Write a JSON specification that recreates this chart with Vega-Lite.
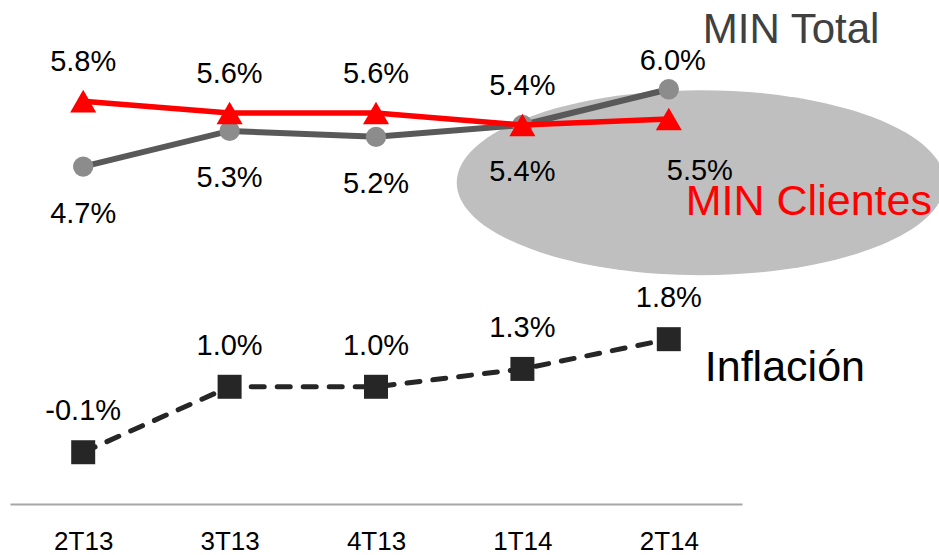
{
  "$schema": "https://vega.github.io/schema/vega-lite/v6.json",
  "autosize": {"type": "none"},
  "padding": {"left": 10, "top": 0, "right": 197, "bottom": 51},
  "width": 732,
  "height": 504,
  "background": "white",
  "config": {"view": {"stroke": null}, "font": "Liberation Sans"},
  "data": {
    "values": [
      {"q": "2T13", "series": "MIN Total", "value": 4.7},
      {"q": "3T13", "series": "MIN Total", "value": 5.3},
      {"q": "4T13", "series": "MIN Total", "value": 5.2},
      {"q": "1T14", "series": "MIN Total", "value": 5.4},
      {"q": "2T14", "series": "MIN Total", "value": 6.0},
      {"q": "2T13", "series": "MIN Clientes", "value": 5.8},
      {"q": "3T13", "series": "MIN Clientes", "value": 5.6},
      {"q": "4T13", "series": "MIN Clientes", "value": 5.6},
      {"q": "1T14", "series": "MIN Clientes", "value": 5.4},
      {"q": "2T14", "series": "MIN Clientes", "value": 5.5},
      {"q": "2T13", "series": "Inflación", "value": -0.1},
      {"q": "3T13", "series": "Inflación", "value": 1.0},
      {"q": "4T13", "series": "Inflación", "value": 1.0},
      {"q": "1T14", "series": "Inflación", "value": 1.3},
      {"q": "2T14", "series": "Inflación", "value": 1.8}
    ]
  },
  "transform": [
    {"calculate": "(datum.value < 0 ? '-' : '') + format(abs(datum.value), '.1f') + '%'", "as": "label"}
  ],
  "encoding": {
    "x": {
      "field": "q", "type": "ordinal",
      "scale": {"type": "point", "padding": 0.5, "domain": ["2T13", "3T13", "4T13", "1T14", "2T14"]},
      "axis": {
        "title": null, "ticks": false, "tickSize": 0, "grid": false,
        "domainColor": "#a6a6a6", "domainWidth": 2,
        "labelFont": "Liberation Sans",
        "labelFontSize": 26, "labelColor": "#000000", "labelPadding": 24, "labelAngle": 0
      }
    },
    "y": {
      "field": "value", "type": "quantitative",
      "scale": {"domain": [-0.97, 7.5], "nice": false, "zero": false},
      "axis": null
    }
  },
  "layer": [
    {
      "transform": [{"filter": "datum.series === 'MIN Clientes' && datum.q === '2T14'"}],
      "mark": {
        "type": "point", "filled": true, "color": "#bfbfbf", "opacity": 1, "size": 238144,
        "shape": "M 1.131 0.261 C 1.131 0.470 0.683 0.640 0.131 0.640 C -0.421 0.640 -0.869 0.470 -0.869 0.261 C -0.869 0.052 -0.421 -0.118 0.131 -0.118 C 0.683 -0.118 1.131 0.052 1.131 0.261 Z"
      }
    },
    {
      "transform": [{"filter": "datum.series === 'MIN Total'"}],
      "mark": {"type": "line", "color": "#595959", "strokeWidth": 6}
    },
    {
      "transform": [{"filter": "datum.series === 'MIN Total'"}],
      "mark": {"type": "point", "shape": "circle", "filled": true, "color": "#8c8c8c", "opacity": 1, "size": 415}
    },
    {
      "transform": [{"filter": "datum.series === 'MIN Clientes'"}],
      "mark": {"type": "line", "color": "#ff0000", "strokeWidth": 5.5}
    },
    {
      "transform": [{"filter": "datum.series === 'MIN Clientes'"}],
      "mark": {"type": "point", "shape": "triangle-up", "filled": true, "color": "#ff0000", "opacity": 1, "size": 680}
    },
    {
      "transform": [{"filter": "datum.series === 'Inflación'"}],
      "mark": {"type": "line", "color": "#262626", "strokeWidth": 5, "strokeDash": [13, 13], "strokeCap": "round"}
    },
    {
      "transform": [{"filter": "datum.series === 'Inflación'"}],
      "mark": {"type": "point", "shape": "square", "filled": true, "color": "#262626", "opacity": 1, "size": 576}
    },
    {
      "transform": [{"filter": "datum.series === 'MIN Total' && datum.q !== '2T14'"}],
      "mark": {"type": "text", "fontSize": 29, "color": "#000000", "baseline": "alphabetic", "align": "center", "dy": 56},
      "encoding": {"text": {"field": "label"}}
    },
    {
      "transform": [{"filter": "datum.series === 'MIN Total' && datum.q === '2T14'"}],
      "mark": {"type": "text", "fontSize": 29, "color": "#000000", "baseline": "alphabetic", "align": "center", "dy": -19, "dx": 4},
      "encoding": {"text": {"field": "label"}}
    },
    {
      "transform": [{"filter": "datum.series === 'MIN Clientes' && datum.q !== '2T14'"}],
      "mark": {"type": "text", "fontSize": 29, "color": "#000000", "baseline": "alphabetic", "align": "center", "dy": -30},
      "encoding": {"text": {"field": "label"}}
    },
    {
      "transform": [{"filter": "datum.series === 'MIN Clientes' && datum.q === '2T14'"}],
      "mark": {"type": "text", "fontSize": 29, "color": "#000000", "baseline": "alphabetic", "align": "center", "dy": 61, "dx": 31},
      "encoding": {"text": {"field": "label"}}
    },
    {
      "transform": [{"filter": "datum.series === 'Inflación'"}],
      "mark": {"type": "text", "fontSize": 29, "color": "#000000", "baseline": "alphabetic", "align": "center", "dy": -32},
      "encoding": {"text": {"field": "label"}}
    },
    {
      "transform": [{"filter": "datum.series === 'MIN Total' && datum.q === '2T14'"}],
      "mark": {"type": "text", "fontSize": 42, "color": "#404040", "baseline": "alphabetic", "align": "left", "dy": -46, "dx": 34},
      "encoding": {"text": {"field": "series"}}
    },
    {
      "transform": [{"filter": "datum.series === 'MIN Clientes' && datum.q === '2T14'"}],
      "mark": {"type": "text", "fontSize": 43, "color": "#ff0000", "baseline": "alphabetic", "align": "left", "dy": 96, "dx": 17},
      "encoding": {"text": {"field": "series"}}
    },
    {
      "transform": [{"filter": "datum.series === 'Inflación' && datum.q === '2T14'"}],
      "mark": {"type": "text", "fontSize": 43, "color": "#000000", "baseline": "alphabetic", "align": "left", "dy": 42, "dx": 36},
      "encoding": {"text": {"field": "series"}}
    }
  ]
}
